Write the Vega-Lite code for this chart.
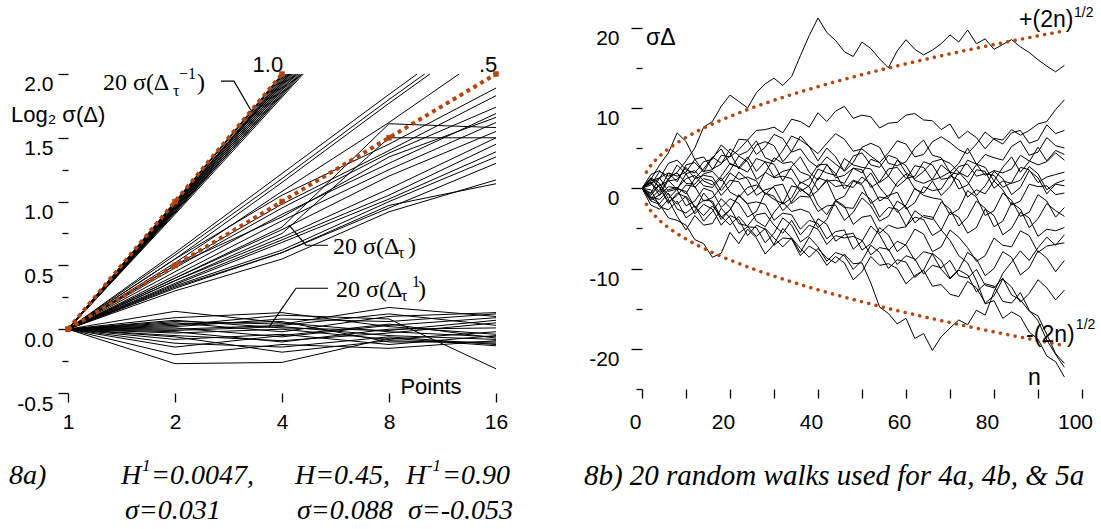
{
"$schema":"https://vega.github.io/schema/vega-lite/v6.json",
"background":"white",
"padding":{"left":8,"top":6,"right":4,"bottom":4},
"bounds":"flush",
"spacing":146,
"config":{"view":{"stroke":null},"axis":{"domain":false,"grid":false,"tickColor":"black","tickWidth":1.3,"labelColor":"black","labelFont":"Liberation Sans","labelFontSize":21,"labelFlush":false,"labelOverlap":false,"labelBound":false,"title":null}},
"datasets":{
"leftLines":[
{"g":"s1","x":1,"y":0},{"g":"s1","x":2,"y":1},{"g":"s1","x":4,"y":2},
{"g":"s2","x":1,"y":0},{"g":"s2","x":2,"y":0.99},{"g":"s2","x":4.03,"y":2},
{"g":"s3","x":1,"y":0},{"g":"s3","x":2,"y":1},{"g":"s3","x":4.06,"y":2},
{"g":"s4","x":1,"y":0},{"g":"s4","x":2,"y":0.98},{"g":"s4","x":4.09,"y":2},
{"g":"s5","x":1,"y":0},{"g":"s5","x":2,"y":0.97},{"g":"s5","x":4.12,"y":2},
{"g":"s6","x":1,"y":0},{"g":"s6","x":2,"y":0.98},{"g":"s6","x":4.15,"y":2},
{"g":"s7","x":1,"y":0},{"g":"s7","x":2,"y":0.96},{"g":"s7","x":4.18,"y":2},
{"g":"s8","x":1,"y":0},{"g":"s8","x":2,"y":0.97},{"g":"s8","x":4.21,"y":2},
{"g":"s9","x":1,"y":0},{"g":"s9","x":2,"y":0.95},{"g":"s9","x":4.24,"y":2},
{"g":"s10","x":1,"y":0},{"g":"s10","x":2,"y":0.96},{"g":"s10","x":4.27,"y":2},
{"g":"s11","x":1,"y":0},{"g":"s11","x":2,"y":0.94},{"g":"s11","x":4.3,"y":2},
{"g":"s12","x":1,"y":0},{"g":"s12","x":2,"y":0.95},{"g":"s12","x":4.34,"y":2},
{"g":"s13","x":1,"y":0},{"g":"s13","x":2,"y":0.93},{"g":"s13","x":4.37,"y":2},
{"g":"s14","x":1,"y":0},{"g":"s14","x":2,"y":0.94},{"g":"s14","x":4.4,"y":2},
{"g":"s15","x":1,"y":0},{"g":"s15","x":2,"y":0.92},{"g":"s15","x":4.44,"y":2},
{"g":"s16","x":1,"y":0},{"g":"s16","x":2,"y":0.93},{"g":"s16","x":4.48,"y":2},
{"g":"s17","x":1,"y":0},{"g":"s17","x":2,"y":0.91},{"g":"s17","x":4.51,"y":2},
{"g":"s18","x":1,"y":0},{"g":"s18","x":2,"y":0.92},{"g":"s18","x":4.55,"y":2},
{"g":"s19","x":1,"y":0},{"g":"s19","x":2,"y":0.9},{"g":"s19","x":4.59,"y":2},
{"g":"s20","x":1,"y":0},{"g":"s20","x":2,"y":0.99},{"g":"s20","x":4.2,"y":2},
{"g":"m1","x":1,"y":0},{"g":"m1","x":2,"y":0.6},{"g":"m1","x":4,"y":1.22},{"g":"m1","x":8,"y":1.84},{"g":"m1","x":9.6,"y":2},
{"g":"m2","x":1,"y":0},{"g":"m2","x":2,"y":0.58},{"g":"m2","x":4,"y":1.18},{"g":"m2","x":8,"y":1.8},{"g":"m2","x":10.08,"y":2},
{"g":"m3","x":1,"y":0},{"g":"m3","x":2,"y":0.55},{"g":"m3","x":4,"y":1.15},{"g":"m3","x":8,"y":1.77},{"g":"m3","x":10.43,"y":2},
{"g":"m4","x":1,"y":0},{"g":"m4","x":2,"y":0.52},{"g":"m4","x":4,"y":1.08},{"g":"m4","x":8,"y":1.62},{"g":"m4","x":12.6,"y":2},
{"g":"m5","x":1,"y":0},{"g":"m5","x":2,"y":0.55},{"g":"m5","x":4,"y":1.05},{"g":"m5","x":8,"y":1.45},{"g":"m5","x":16,"y":1.89},
{"g":"m6","x":1,"y":0},{"g":"m6","x":2,"y":0.5},{"g":"m6","x":4,"y":0.98},{"g":"m6","x":8,"y":1.4},{"g":"m6","x":16,"y":1.83},
{"g":"m7","x":1,"y":0},{"g":"m7","x":2,"y":0.48},{"g":"m7","x":4,"y":0.95},{"g":"m7","x":8,"y":1.38},{"g":"m7","x":16,"y":1.74},
{"g":"m8","x":1,"y":0},{"g":"m8","x":2,"y":0.45},{"g":"m8","x":4,"y":0.9},{"g":"m8","x":8,"y":1.3},{"g":"m8","x":16,"y":1.69},
{"g":"m9","x":1,"y":0},{"g":"m9","x":2,"y":0.5},{"g":"m9","x":4,"y":0.88},{"g":"m9","x":8,"y":1.35},{"g":"m9","x":16,"y":1.66},
{"g":"m10","x":1,"y":0},{"g":"m10","x":2,"y":0.42},{"g":"m10","x":4,"y":0.85},{"g":"m10","x":8,"y":1.25},{"g":"m10","x":16,"y":1.62},
{"g":"m11","x":1,"y":0},{"g":"m11","x":2,"y":0.4},{"g":"m11","x":4,"y":0.8},{"g":"m11","x":8,"y":1.61},{"g":"m11","x":16,"y":1.58},
{"g":"m12","x":1,"y":0},{"g":"m12","x":2,"y":0.4},{"g":"m12","x":4,"y":0.78},{"g":"m12","x":8,"y":1.2},{"g":"m12","x":16,"y":1.55},
{"g":"m13","x":1,"y":0},{"g":"m13","x":2,"y":0.38},{"g":"m13","x":4,"y":0.75},{"g":"m13","x":8,"y":1.5},{"g":"m13","x":16,"y":1.5},
{"g":"m14","x":1,"y":0},{"g":"m14","x":2,"y":0.38},{"g":"m14","x":4,"y":0.72},{"g":"m14","x":8,"y":1.1},{"g":"m14","x":16,"y":1.5},
{"g":"m15","x":1,"y":0},{"g":"m15","x":2,"y":0.36},{"g":"m15","x":4,"y":0.7},{"g":"m15","x":8,"y":1.05},{"g":"m15","x":16,"y":1.45},
{"g":"m16","x":1,"y":0},{"g":"m16","x":2,"y":0.35},{"g":"m16","x":4,"y":0.68},{"g":"m16","x":8,"y":1.02},{"g":"m16","x":16,"y":1.39},
{"g":"m17","x":1,"y":0},{"g":"m17","x":2,"y":0.33},{"g":"m17","x":4,"y":0.6},{"g":"m17","x":8,"y":0.95},{"g":"m17","x":16,"y":1.3},
{"g":"m18","x":1,"y":0},{"g":"m18","x":2,"y":0.32},{"g":"m18","x":4,"y":0.6},{"g":"m18","x":8,"y":0.97},{"g":"m18","x":16,"y":1.14},
{"g":"m19","x":1,"y":0},{"g":"m19","x":2,"y":0.3},{"g":"m19","x":4,"y":0.55},{"g":"m19","x":8,"y":0.92},{"g":"m19","x":16,"y":1.17},
{"g":"m20","x":1,"y":0},{"g":"m20","x":2,"y":0.34},{"g":"m20","x":4,"y":0.62},{"g":"m20","x":8,"y":1},{"g":"m20","x":16,"y":1.35},
{"g":"f1","x":1,"y":0},{"g":"f1","x":2,"y":0.14},{"g":"f1","x":4,"y":0.05},{"g":"f1","x":8,"y":-0.02},{"g":"f1","x":16,"y":-0.06},
{"g":"f2","x":1,"y":0},{"g":"f2","x":2,"y":0.09},{"g":"f2","x":4,"y":0.13},{"g":"f2","x":8,"y":0.02},{"g":"f2","x":16,"y":-0.04},
{"g":"f3","x":1,"y":0},{"g":"f3","x":2,"y":0.06},{"g":"f3","x":4,"y":0.04},{"g":"f3","x":8,"y":0.17},{"g":"f3","x":16,"y":0.1},
{"g":"f4","x":1,"y":0},{"g":"f4","x":2,"y":0.05},{"g":"f4","x":4,"y":-0.02},{"g":"f4","x":8,"y":0.1},{"g":"f4","x":16,"y":0.13},
{"g":"f5","x":1,"y":0},{"g":"f5","x":2,"y":0.02},{"g":"f5","x":4,"y":0.08},{"g":"f5","x":8,"y":0.06},{"g":"f5","x":16,"y":0.12},
{"g":"f6","x":1,"y":0},{"g":"f6","x":2,"y":0.01},{"g":"f6","x":4,"y":-0.06},{"g":"f6","x":8,"y":0.03},{"g":"f6","x":16,"y":0.09},
{"g":"f7","x":1,"y":0},{"g":"f7","x":2,"y":-0.01},{"g":"f7","x":4,"y":0.02},{"g":"f7","x":8,"y":-0.05},{"g":"f7","x":16,"y":-0.08},
{"g":"f8","x":1,"y":0},{"g":"f8","x":2,"y":-0.03},{"g":"f8","x":4,"y":0},{"g":"f8","x":8,"y":-0.08},{"g":"f8","x":16,"y":-0.02},
{"g":"f9","x":1,"y":0},{"g":"f9","x":2,"y":-0.05},{"g":"f9","x":4,"y":-0.09},{"g":"f9","x":8,"y":-0.03},{"g":"f9","x":16,"y":0.05},
{"g":"f10","x":1,"y":0},{"g":"f10","x":2,"y":0.04},{"g":"f10","x":4,"y":0.06},{"g":"f10","x":8,"y":-0.1},{"g":"f10","x":16,"y":-0.1},
{"g":"f11","x":1,"y":0},{"g":"f11","x":2,"y":-0.08},{"g":"f11","x":4,"y":-0.04},{"g":"f11","x":8,"y":-0.12},{"g":"f11","x":16,"y":-0.05},
{"g":"f12","x":1,"y":0},{"g":"f12","x":2,"y":-0.11},{"g":"f12","x":4,"y":-0.14},{"g":"f12","x":8,"y":-0.06},{"g":"f12","x":16,"y":-0.12},
{"g":"f13","x":1,"y":0},{"g":"f13","x":2,"y":-0.14},{"g":"f13","x":4,"y":-0.05},{"g":"f13","x":8,"y":0.04},{"g":"f13","x":16,"y":-0.07},
{"g":"f14","x":1,"y":0},{"g":"f14","x":2,"y":-0.2},{"g":"f14","x":4,"y":-0.12},{"g":"f14","x":8,"y":-0.15},{"g":"f14","x":16,"y":-0.09},
{"g":"f15","x":1,"y":0},{"g":"f15","x":2,"y":-0.27},{"g":"f15","x":4,"y":-0.26},{"g":"f15","x":8,"y":-0.07},{"g":"f15","x":16,"y":-0.13},
{"g":"f16","x":1,"y":0},{"g":"f16","x":2,"y":0.03},{"g":"f16","x":4,"y":0.11},{"g":"f16","x":8,"y":0.08},{"g":"f16","x":16,"y":-0.31},
{"g":"f17","x":1,"y":0},{"g":"f17","x":2,"y":-0.02},{"g":"f17","x":4,"y":-0.1},{"g":"f17","x":8,"y":0},{"g":"f17","x":16,"y":0.01},
{"g":"f18","x":1,"y":0},{"g":"f18","x":2,"y":0.07},{"g":"f18","x":4,"y":0.01},{"g":"f18","x":8,"y":-0.01},{"g":"f18","x":16,"y":0.07},
{"g":"f19","x":1,"y":0},{"g":"f19","x":2,"y":-0.06},{"g":"f19","x":4,"y":-0.18},{"g":"f19","x":8,"y":-0.09},{"g":"f19","x":16,"y":-0.11},
{"g":"f20","x":1,"y":0},{"g":"f20","x":2,"y":0},{"g":"f20","x":4,"y":0.03},{"g":"f20","x":8,"y":0.12},{"g":"f20","x":16,"y":0.03}
],
"leftFit":[
{"g":"h1","x":1,"y":0},{"g":"h1","x":2,"y":1},{"g":"h1","x":4,"y":2},
{"g":"h2","x":1,"y":0},{"g":"h2","x":2,"y":0.5},{"g":"h2","x":4,"y":1},{"g":"h2","x":8,"y":1.5},{"g":"h2","x":16,"y":2}
],
"leftLeaders":[
{"g":"a","x":2.694,"y":1.944},{"g":"a","x":2.931,"y":1.944},{"g":"a","x":3.27,"y":1.716},
{"g":"b","x":4.185,"y":0.815},{"g":"b","x":4.673,"y":0.658},{"g":"b","x":5.389,"y":0.658},
{"g":"c","x":3.678,"y":0.016},{"g":"c","x":4.38,"y":0.321},{"g":"c","x":5.389,"y":0.321}
],
"leftText":[
{"k":"c","x":3.65,"y":2.069,"t":"1.0"},
{"k":"c","x":15.2,"y":2.069,"t":".5"},
{"k":"c","x":10.5,"y":-0.455,"t":"Points"},
{"k":"l","x":0.691,"y":1.677,"t":"Log₂ σ(Δ)"},
{"k":"sm","x":1.254,"y":1.928,"t":"20 σ(Δ"},
{"k":"sm","x":2.306,"y":1.928,"t":")"},
{"k":"sm","x":5.567,"y":0.643,"t":"20 σ(Δ"},
{"k":"sm","x":9.05,"y":0.643,"t":")"},
{"k":"sm","x":5.676,"y":0.306,"t":"20 σ(Δ"},
{"k":"sm","x":9.65,"y":0.306,"t":")"},
{"k":"ss","x":1.974,"y":1.865,"t":"τ"},
{"k":"ss","x":8.48,"y":0.596,"t":"τ"},
{"k":"ss","x":8.645,"y":0.259,"t":"τ"},
{"k":"sp","x":2.053,"y":1.998,"t":"−1"},
{"k":"sp","x":9.28,"y":0.368,"t":"1"},
{"k":"cap","x":0.682,"y":-1.152,"t":"8a)"},
{"k":"cap","x":1.41,"y":-1.152,"t":"H"},
{"k":"csp","x":1.615,"y":-1.074,"t":"1"},
{"k":"cap","x":1.712,"y":-1.152,"t":"=0.0047,"},
{"k":"cap","x":4.35,"y":-1.152,"t":"H=0.45,"},
{"k":"cap","x":8.93,"y":-1.152,"t":"H"},
{"k":"csp","x":10.23,"y":-1.074,"t":"-1"},
{"k":"cap","x":11.28,"y":-1.152,"t":"=0.90"},
{"k":"cap","x":1.447,"y":-1.426,"t":"σ=0.031"},
{"k":"cap","x":4.41,"y":-1.426,"t":"σ=0.088"},
{"k":"cap","x":9.05,"y":-1.426,"t":"σ=-0.053"}
],
"walks":[
{"w":1,"x":0,"y":0},{"w":1,"x":2,"y":0.8},{"w":1,"x":4,"y":-0.5},{"w":1,"x":6,"y":1.2},{"w":1,"x":8,"y":2},{"w":1,"x":10,"y":3.4},{"w":1,"x":12,"y":5},{"w":1,"x":14,"y":7.6},{"w":1,"x":16,"y":8.3},{"w":1,"x":18,"y":10.2},{"w":1,"x":20,"y":11.6},{"w":1,"x":22,"y":10.8},{"w":1,"x":24,"y":10},{"w":1,"x":26,"y":11.9},{"w":1,"x":28,"y":13},{"w":1,"x":30,"y":13.7},{"w":1,"x":32,"y":12.8},{"w":1,"x":34,"y":13.9},{"w":1,"x":36,"y":16.5},{"w":1,"x":38,"y":19},{"w":1,"x":40,"y":21.2},{"w":1,"x":42,"y":19.4},{"w":1,"x":44,"y":18.4},{"w":1,"x":46,"y":17},{"w":1,"x":48,"y":16.4},{"w":1,"x":50,"y":18.2},{"w":1,"x":52,"y":17.4},{"w":1,"x":54,"y":16.1},{"w":1,"x":56,"y":15},{"w":1,"x":58,"y":17.1},{"w":1,"x":60,"y":18.5},{"w":1,"x":62,"y":17.3},{"w":1,"x":64,"y":16.6},{"w":1,"x":66,"y":17.2},{"w":1,"x":68,"y":18},{"w":1,"x":70,"y":19.1},{"w":1,"x":72,"y":18.2},{"w":1,"x":74,"y":19.7},{"w":1,"x":76,"y":18},{"w":1,"x":78,"y":18.6},{"w":1,"x":80,"y":17.3},{"w":1,"x":82,"y":17.9},{"w":1,"x":84,"y":18.5},{"w":1,"x":86,"y":17.6},{"w":1,"x":88,"y":16.9},{"w":1,"x":90,"y":16},{"w":1,"x":92,"y":15.2},{"w":1,"x":94,"y":14.5},{"w":1,"x":96,"y":15.3},
{"w":2,"x":0,"y":0},{"w":2,"x":2,"y":-0.9},{"w":2,"x":4,"y":0.4},{"w":2,"x":6,"y":0.9},{"w":2,"x":8,"y":1.1},{"w":2,"x":10,"y":2.6},{"w":2,"x":12,"y":1.2},{"w":2,"x":14,"y":2.4},{"w":2,"x":16,"y":3.9},{"w":2,"x":18,"y":3.1},{"w":2,"x":20,"y":4},{"w":2,"x":22,"y":6.1},{"w":2,"x":24,"y":6},{"w":2,"x":26,"y":7.2},{"w":2,"x":28,"y":7.3},{"w":2,"x":30,"y":7.6},{"w":2,"x":32,"y":6.9},{"w":2,"x":34,"y":8.6},{"w":2,"x":36,"y":8.3},{"w":2,"x":38,"y":7.6},{"w":2,"x":40,"y":9.4},{"w":2,"x":42,"y":8.3},{"w":2,"x":44,"y":9.6},{"w":2,"x":46,"y":10.2},{"w":2,"x":48,"y":8.7},{"w":2,"x":50,"y":9.1},{"w":2,"x":52,"y":8.9},{"w":2,"x":54,"y":7.5},{"w":2,"x":56,"y":8.1},{"w":2,"x":58,"y":8.2},{"w":2,"x":60,"y":9.1},{"w":2,"x":62,"y":9.3},{"w":2,"x":64,"y":8.5},{"w":2,"x":66,"y":8.4},{"w":2,"x":68,"y":7.3},{"w":2,"x":70,"y":8},{"w":2,"x":72,"y":6.2},{"w":2,"x":74,"y":7.1},{"w":2,"x":76,"y":6.3},{"w":2,"x":78,"y":4.9},{"w":2,"x":80,"y":6.2},{"w":2,"x":82,"y":6},{"w":2,"x":84,"y":7.3},{"w":2,"x":86,"y":6.6},{"w":2,"x":88,"y":7.2},{"w":2,"x":90,"y":8},{"w":2,"x":92,"y":8.3},{"w":2,"x":94,"y":9.8},{"w":2,"x":96,"y":11},
{"w":3,"x":0,"y":0},{"w":3,"x":2,"y":1.1},{"w":3,"x":4,"y":2.9},{"w":3,"x":6,"y":4.4},{"w":3,"x":8,"y":6.9},{"w":3,"x":10,"y":5.8},{"w":3,"x":12,"y":3.6},{"w":3,"x":14,"y":3.9},{"w":3,"x":16,"y":2.4},{"w":3,"x":18,"y":3},{"w":3,"x":20,"y":4.9},{"w":3,"x":22,"y":4.1},{"w":3,"x":24,"y":4.6},{"w":3,"x":26,"y":5.9},{"w":3,"x":28,"y":3.8},{"w":3,"x":30,"y":3.3},{"w":3,"x":32,"y":4.7},{"w":3,"x":34,"y":6.5},{"w":3,"x":36,"y":6},{"w":3,"x":38,"y":5.2},{"w":3,"x":40,"y":4.3},{"w":3,"x":42,"y":5.6},{"w":3,"x":44,"y":6.8},{"w":3,"x":46,"y":6.1},{"w":3,"x":48,"y":4.6},{"w":3,"x":50,"y":4.9},{"w":3,"x":52,"y":4},{"w":3,"x":54,"y":3.2},{"w":3,"x":56,"y":4.4},{"w":3,"x":58,"y":5.9},{"w":3,"x":60,"y":5.5},{"w":3,"x":62,"y":3.9},{"w":3,"x":64,"y":4.2},{"w":3,"x":66,"y":5.8},{"w":3,"x":68,"y":6.4},{"w":3,"x":70,"y":5.7},{"w":3,"x":72,"y":4.8},{"w":3,"x":74,"y":4.3},{"w":3,"x":76,"y":5.5},{"w":3,"x":78,"y":7},{"w":3,"x":80,"y":6.1},{"w":3,"x":82,"y":5.5},{"w":3,"x":84,"y":6.9},{"w":3,"x":86,"y":7.2},{"w":3,"x":88,"y":5.6},{"w":3,"x":90,"y":6},{"w":3,"x":92,"y":7.9},{"w":3,"x":94,"y":6.8},{"w":3,"x":96,"y":7.2},
{"w":4,"x":0,"y":0},{"w":4,"x":2,"y":-1.3},{"w":4,"x":4,"y":-0.2},{"w":4,"x":6,"y":1.9},{"w":4,"x":8,"y":1.5},{"w":4,"x":10,"y":2},{"w":4,"x":12,"y":3.6},{"w":4,"x":14,"y":2.1},{"w":4,"x":16,"y":2.3},{"w":4,"x":18,"y":4.1},{"w":4,"x":20,"y":3.9},{"w":4,"x":22,"y":4.8},{"w":4,"x":24,"y":6},{"w":4,"x":26,"y":4.2},{"w":4,"x":28,"y":5.1},{"w":4,"x":30,"y":6.7},{"w":4,"x":32,"y":6.2},{"w":4,"x":34,"y":4.5},{"w":4,"x":36,"y":4.9},{"w":4,"x":38,"y":3.4},{"w":4,"x":40,"y":2.6},{"w":4,"x":42,"y":3.9},{"w":4,"x":44,"y":3},{"w":4,"x":46,"y":2.2},{"w":4,"x":48,"y":4},{"w":4,"x":50,"y":4.4},{"w":4,"x":52,"y":2.9},{"w":4,"x":54,"y":2.6},{"w":4,"x":56,"y":4.1},{"w":4,"x":58,"y":3.7},{"w":4,"x":60,"y":1.9},{"w":4,"x":62,"y":1.2},{"w":4,"x":64,"y":2.1},{"w":4,"x":66,"y":3.3},{"w":4,"x":68,"y":3.6},{"w":4,"x":70,"y":3.1},{"w":4,"x":72,"y":2},{"w":4,"x":74,"y":1.4},{"w":4,"x":76,"y":2.9},{"w":4,"x":78,"y":4.2},{"w":4,"x":80,"y":3.8},{"w":4,"x":82,"y":3.5},{"w":4,"x":84,"y":5.2},{"w":4,"x":86,"y":5.9},{"w":4,"x":88,"y":4.1},{"w":4,"x":90,"y":4.5},{"w":4,"x":92,"y":6.3},{"w":4,"x":94,"y":5.3},{"w":4,"x":96,"y":5},
{"w":5,"x":0,"y":0},{"w":5,"x":2,"y":0.9},{"w":5,"x":4,"y":1.3},{"w":5,"x":6,"y":-0.4},{"w":5,"x":8,"y":-0.1},{"w":5,"x":10,"y":1.8},{"w":5,"x":12,"y":2.2},{"w":5,"x":14,"y":0.9},{"w":5,"x":16,"y":0.4},{"w":5,"x":18,"y":1.5},{"w":5,"x":20,"y":3.1},{"w":5,"x":22,"y":2.6},{"w":5,"x":24,"y":2},{"w":5,"x":26,"y":3.7},{"w":5,"x":28,"y":3.3},{"w":5,"x":30,"y":1.4},{"w":5,"x":32,"y":2.1},{"w":5,"x":34,"y":2.4},{"w":5,"x":36,"y":0.6},{"w":5,"x":38,"y":1.2},{"w":5,"x":40,"y":2.9},{"w":5,"x":42,"y":3},{"w":5,"x":44,"y":1.3},{"w":5,"x":46,"y":1.6},{"w":5,"x":48,"y":2.5},{"w":5,"x":50,"y":1.9},{"w":5,"x":52,"y":3.6},{"w":5,"x":54,"y":3.2},{"w":5,"x":56,"y":1.5},{"w":5,"x":58,"y":0.2},{"w":5,"x":60,"y":1.1},{"w":5,"x":62,"y":2.8},{"w":5,"x":64,"y":2.6},{"w":5,"x":66,"y":1},{"w":5,"x":68,"y":1.4},{"w":5,"x":70,"y":2},{"w":5,"x":72,"y":1.7},{"w":5,"x":74,"y":3.5},{"w":5,"x":76,"y":3},{"w":5,"x":78,"y":1.6},{"w":5,"x":80,"y":2.2},{"w":5,"x":82,"y":1.9},{"w":5,"x":84,"y":2.4},{"w":5,"x":86,"y":4.1},{"w":5,"x":88,"y":3.4},{"w":5,"x":90,"y":2.9},{"w":5,"x":92,"y":3.3},{"w":5,"x":94,"y":4.4},{"w":5,"x":96,"y":3.5},
{"w":6,"x":0,"y":0},{"w":6,"x":2,"y":0.4},{"w":6,"x":4,"y":2.1},{"w":6,"x":6,"y":1.5},{"w":6,"x":8,"y":1.9},{"w":6,"x":10,"y":0.6},{"w":6,"x":12,"y":0.5},{"w":6,"x":14,"y":1.8},{"w":6,"x":16,"y":2.1},{"w":6,"x":18,"y":0.9},{"w":6,"x":20,"y":2.2},{"w":6,"x":22,"y":4},{"w":6,"x":24,"y":3.3},{"w":6,"x":26,"y":1.1},{"w":6,"x":28,"y":1.9},{"w":6,"x":30,"y":3.8},{"w":6,"x":32,"y":3.1},{"w":6,"x":34,"y":3.3},{"w":6,"x":36,"y":2},{"w":6,"x":38,"y":1.6},{"w":6,"x":40,"y":-0.2},{"w":6,"x":42,"y":0.9},{"w":6,"x":44,"y":1},{"w":6,"x":46,"y":0.6},{"w":6,"x":48,"y":2.5},{"w":6,"x":50,"y":2.3},{"w":6,"x":52,"y":0.1},{"w":6,"x":54,"y":0.8},{"w":6,"x":56,"y":2.4},{"w":6,"x":58,"y":2.6},{"w":6,"x":60,"y":1.2},{"w":6,"x":62,"y":1.5},{"w":6,"x":64,"y":3.3},{"w":6,"x":66,"y":2.9},{"w":6,"x":68,"y":1.1},{"w":6,"x":70,"y":1.3},{"w":6,"x":72,"y":2.7},{"w":6,"x":74,"y":3},{"w":6,"x":76,"y":1.5},{"w":6,"x":78,"y":1.8},{"w":6,"x":80,"y":1.6},{"w":6,"x":82,"y":0.1},{"w":6,"x":84,"y":0.7},{"w":6,"x":86,"y":2.6},{"w":6,"x":88,"y":2.3},{"w":6,"x":90,"y":0.7},{"w":6,"x":92,"y":1.4},{"w":6,"x":94,"y":1.7},{"w":6,"x":96,"y":2},
{"w":7,"x":0,"y":0},{"w":7,"x":2,"y":-1.1},{"w":7,"x":4,"y":-1.4},{"w":7,"x":6,"y":-0.2},{"w":7,"x":8,"y":0.1},{"w":7,"x":10,"y":-0.7},{"w":7,"x":12,"y":1.2},{"w":7,"x":14,"y":1.6},{"w":7,"x":16,"y":1.4},{"w":7,"x":18,"y":-0.3},{"w":7,"x":20,"y":1},{"w":7,"x":22,"y":0.8},{"w":7,"x":24,"y":-0.9},{"w":7,"x":26,"y":-0.1},{"w":7,"x":28,"y":2},{"w":7,"x":30,"y":1.3},{"w":7,"x":32,"y":1.5},{"w":7,"x":34,"y":1.2},{"w":7,"x":36,"y":-0.4},{"w":7,"x":38,"y":0.3},{"w":7,"x":40,"y":2.4},{"w":7,"x":42,"y":1.9},{"w":7,"x":44,"y":1.6},{"w":7,"x":46,"y":3.7},{"w":7,"x":48,"y":2.9},{"w":7,"x":50,"y":2.6},{"w":7,"x":52,"y":2.4},{"w":7,"x":54,"y":0.7},{"w":7,"x":56,"y":1.5},{"w":7,"x":58,"y":3.5},{"w":7,"x":60,"y":2.8},{"w":7,"x":62,"y":1},{"w":7,"x":64,"y":0.6},{"w":7,"x":66,"y":1.1},{"w":7,"x":68,"y":2.9},{"w":7,"x":70,"y":2},{"w":7,"x":72,"y":-0.1},{"w":7,"x":74,"y":0.4},{"w":7,"x":76,"y":2.3},{"w":7,"x":78,"y":2.1},{"w":7,"x":80,"y":0},{"w":7,"x":82,"y":0.9},{"w":7,"x":84,"y":0.6},{"w":7,"x":86,"y":1},{"w":7,"x":88,"y":2.7},{"w":7,"x":90,"y":1.8},{"w":7,"x":92,"y":-0.2},{"w":7,"x":94,"y":0.6},{"w":7,"x":96,"y":1},
{"w":8,"x":0,"y":0},{"w":8,"x":2,"y":1.2},{"w":8,"x":4,"y":0.1},{"w":8,"x":6,"y":-1.7},{"w":8,"x":8,"y":-0.9},{"w":8,"x":10,"y":0.4},{"w":8,"x":12,"y":0.2},{"w":8,"x":14,"y":-1.6},{"w":8,"x":16,"y":-1.2},{"w":8,"x":18,"y":0.1},{"w":8,"x":20,"y":1.9},{"w":8,"x":22,"y":1.1},{"w":8,"x":24,"y":1.4},{"w":8,"x":26,"y":0.9},{"w":8,"x":28,"y":-0.8},{"w":8,"x":30,"y":0.3},{"w":8,"x":32,"y":0.5},{"w":8,"x":34,"y":-1.9},{"w":8,"x":36,"y":-1},{"w":8,"x":38,"y":-1.1},{"w":8,"x":40,"y":-0.3},{"w":8,"x":42,"y":1.1},{"w":8,"x":44,"y":0.2},{"w":8,"x":46,"y":0.4},{"w":8,"x":48,"y":0.1},{"w":8,"x":50,"y":1.4},{"w":8,"x":52,"y":0.5},{"w":8,"x":54,"y":-1.6},{"w":8,"x":56,"y":-0.9},{"w":8,"x":58,"y":-0.5},{"w":8,"x":60,"y":-2.6},{"w":8,"x":62,"y":-1.8},{"w":8,"x":64,"y":0.2},{"w":8,"x":66,"y":-0.3},{"w":8,"x":68,"y":-0.1},{"w":8,"x":70,"y":1.6},{"w":8,"x":72,"y":1},{"w":8,"x":74,"y":-1.1},{"w":8,"x":76,"y":-0.2},{"w":8,"x":78,"y":-0.7},{"w":8,"x":80,"y":0.9},{"w":8,"x":82,"y":-0.2},{"w":8,"x":84,"y":-2.1},{"w":8,"x":86,"y":-1.6},{"w":8,"x":88,"y":0.5},{"w":8,"x":90,"y":0.2},{"w":8,"x":92,"y":0.3},{"w":8,"x":94,"y":-0.8},{"w":8,"x":96,"y":-0.6},
{"w":9,"x":0,"y":0},{"w":9,"x":2,"y":-1.5},{"w":9,"x":4,"y":-0.8},{"w":9,"x":6,"y":1},{"w":9,"x":8,"y":-0.2},{"w":9,"x":10,"y":-2.2},{"w":9,"x":12,"y":-1.6},{"w":9,"x":14,"y":0},{"w":9,"x":16,"y":-0.4},{"w":9,"x":18,"y":-2.4},{"w":9,"x":20,"y":-1.3},{"w":9,"x":22,"y":-1.9},{"w":9,"x":24,"y":-3.6},{"w":9,"x":26,"y":-2.9},{"w":9,"x":28,"y":-0.6},{"w":9,"x":30,"y":-1.4},{"w":9,"x":32,"y":-1.9},{"w":9,"x":34,"y":0.3},{"w":9,"x":36,"y":0},{"w":9,"x":38,"y":-0.9},{"w":9,"x":40,"y":1.3},{"w":9,"x":42,"y":0.9},{"w":9,"x":44,"y":-1.5},{"w":9,"x":46,"y":-1},{"w":9,"x":48,"y":0.9},{"w":9,"x":50,"y":0.4},{"w":9,"x":52,"y":-1.9},{"w":9,"x":54,"y":-1.1},{"w":9,"x":56,"y":-1.3},{"w":9,"x":58,"y":-3},{"w":9,"x":60,"y":-2.1},{"w":9,"x":62,"y":0},{"w":9,"x":64,"y":-0.9},{"w":9,"x":66,"y":-1.2},{"w":9,"x":68,"y":-1.4},{"w":9,"x":70,"y":-3.3},{"w":9,"x":72,"y":-2.6},{"w":9,"x":74,"y":-0.3},{"w":9,"x":76,"y":-1.1},{"w":9,"x":78,"y":-3.4},{"w":9,"x":80,"y":-2.8},{"w":9,"x":82,"y":-0.6},{"w":9,"x":84,"y":-1.5},{"w":9,"x":86,"y":-3.5},{"w":9,"x":88,"y":-3},{"w":9,"x":90,"y":-0.8},{"w":9,"x":92,"y":-1.6},{"w":9,"x":94,"y":-3.6},{"w":9,"x":96,"y":-2.4},
{"w":10,"x":0,"y":0},{"w":10,"x":2,"y":-0.2},{"w":10,"x":4,"y":-2.3},{"w":10,"x":6,"y":-2.7},{"w":10,"x":8,"y":-1.6},{"w":10,"x":10,"y":-3.7},{"w":10,"x":12,"y":-2.9},{"w":10,"x":14,"y":-0.6},{"w":10,"x":16,"y":-1.9},{"w":10,"x":18,"y":-3.9},{"w":10,"x":20,"y":-2.7},{"w":10,"x":22,"y":-0.9},{"w":10,"x":24,"y":-2},{"w":10,"x":26,"y":-4.1},{"w":10,"x":28,"y":-4.8},{"w":10,"x":30,"y":-3},{"w":10,"x":32,"y":-1.7},{"w":10,"x":34,"y":-2.9},{"w":10,"x":36,"y":-2.6},{"w":10,"x":38,"y":-3},{"w":10,"x":40,"y":-4.9},{"w":10,"x":42,"y":-3.9},{"w":10,"x":44,"y":-1.6},{"w":10,"x":46,"y":-2.4},{"w":10,"x":48,"y":-2.5},{"w":10,"x":50,"y":-0.5},{"w":10,"x":52,"y":-1.4},{"w":10,"x":54,"y":-3.6},{"w":10,"x":56,"y":-2.4},{"w":10,"x":58,"y":-2.6},{"w":10,"x":60,"y":-4.7},{"w":10,"x":62,"y":-3.6},{"w":10,"x":64,"y":-3.9},{"w":10,"x":66,"y":-5.9},{"w":10,"x":68,"y":-5.2},{"w":10,"x":70,"y":-3},{"w":10,"x":72,"y":-3.6},{"w":10,"x":74,"y":-5.6},{"w":10,"x":76,"y":-4.9},{"w":10,"x":78,"y":-2.6},{"w":10,"x":80,"y":-3.4},{"w":10,"x":82,"y":-5.8},{"w":10,"x":84,"y":-5},{"w":10,"x":86,"y":-3},{"w":10,"x":88,"y":-3.7},{"w":10,"x":90,"y":-6},{"w":10,"x":92,"y":-5.1},{"w":10,"x":94,"y":-5.3},{"w":10,"x":96,"y":-4.9},
{"w":11,"x":0,"y":0},{"w":11,"x":2,"y":-2.1},{"w":11,"x":4,"y":-2.6},{"w":11,"x":6,"y":-1.4},{"w":11,"x":8,"y":-3.5},{"w":11,"x":10,"y":-5.2},{"w":11,"x":12,"y":-3.4},{"w":11,"x":14,"y":-4.6},{"w":11,"x":16,"y":-4.4},{"w":11,"x":18,"y":-2.5},{"w":11,"x":20,"y":-3.7},{"w":11,"x":22,"y":-5.6},{"w":11,"x":24,"y":-4.8},{"w":11,"x":26,"y":-4.9},{"w":11,"x":28,"y":-6.8},{"w":11,"x":30,"y":-5.6},{"w":11,"x":32,"y":-3.7},{"w":11,"x":34,"y":-4.6},{"w":11,"x":36,"y":-6.7},{"w":11,"x":38,"y":-5.9},{"w":11,"x":40,"y":-3.8},{"w":11,"x":42,"y":-4.5},{"w":11,"x":44,"y":-6.6},{"w":11,"x":46,"y":-5.8},{"w":11,"x":48,"y":-5.6},{"w":11,"x":50,"y":-7.7},{"w":11,"x":52,"y":-6.9},{"w":11,"x":54,"y":-4.9},{"w":11,"x":56,"y":-5.8},{"w":11,"x":58,"y":-7.9},{"w":11,"x":60,"y":-7},{"w":11,"x":62,"y":-5.1},{"w":11,"x":64,"y":-5.7},{"w":11,"x":66,"y":-7.9},{"w":11,"x":68,"y":-7.3},{"w":11,"x":70,"y":-5.2},{"w":11,"x":72,"y":-6.1},{"w":11,"x":74,"y":-7.4},{"w":11,"x":76,"y":-9.1},{"w":11,"x":78,"y":-8.4},{"w":11,"x":80,"y":-6.2},{"w":11,"x":82,"y":-7.1},{"w":11,"x":84,"y":-7.3},{"w":11,"x":86,"y":-5.3},{"w":11,"x":88,"y":-5.9},{"w":11,"x":90,"y":-8},{"w":11,"x":92,"y":-7.2},{"w":11,"x":94,"y":-7},{"w":11,"x":96,"y":-6.8},
{"w":12,"x":0,"y":0},{"w":12,"x":2,"y":-1.6},{"w":12,"x":4,"y":-2},{"w":12,"x":6,"y":-3.7},{"w":12,"x":8,"y":-4},{"w":12,"x":10,"y":-4.6},{"w":12,"x":12,"y":-6.4},{"w":12,"x":14,"y":-6.9},{"w":12,"x":16,"y":-8.6},{"w":12,"x":18,"y":-8.1},{"w":12,"x":20,"y":-5.5},{"w":12,"x":22,"y":-6.9},{"w":12,"x":24,"y":-5.1},{"w":12,"x":26,"y":-6.2},{"w":12,"x":28,"y":-8.2},{"w":12,"x":30,"y":-7},{"w":12,"x":32,"y":-5},{"w":12,"x":34,"y":-6.2},{"w":12,"x":36,"y":-8},{"w":12,"x":38,"y":-6.1},{"w":12,"x":40,"y":-7.3},{"w":12,"x":42,"y":-9.1},{"w":12,"x":44,"y":-8},{"w":12,"x":46,"y":-8.4},{"w":12,"x":48,"y":-10.1},{"w":12,"x":50,"y":-9},{"w":12,"x":52,"y":-7.1},{"w":12,"x":54,"y":-8},{"w":12,"x":56,"y":-10},{"w":12,"x":58,"y":-8.9},{"w":12,"x":60,"y":-9.2},{"w":12,"x":62,"y":-11.1},{"w":12,"x":64,"y":-10.2},{"w":12,"x":66,"y":-8.1},{"w":12,"x":68,"y":-9},{"w":12,"x":70,"y":-11.2},{"w":12,"x":72,"y":-10.1},{"w":12,"x":74,"y":-8},{"w":12,"x":76,"y":-8.8},{"w":12,"x":78,"y":-10.9},{"w":12,"x":80,"y":-10},{"w":12,"x":82,"y":-7.9},{"w":12,"x":84,"y":-8.6},{"w":12,"x":86,"y":-10.8},{"w":12,"x":88,"y":-9.9},{"w":12,"x":90,"y":-7.8},{"w":12,"x":92,"y":-8.7},{"w":12,"x":94,"y":-10.4},{"w":12,"x":96,"y":-9},
{"w":13,"x":0,"y":0},{"w":13,"x":2,"y":1.1},{"w":13,"x":4,"y":0.2},{"w":13,"x":6,"y":-1.9},{"w":13,"x":8,"y":-0.6},{"w":13,"x":10,"y":-1.1},{"w":13,"x":12,"y":-3.2},{"w":13,"x":14,"y":-2},{"w":13,"x":16,"y":-2.6},{"w":13,"x":18,"y":-4.6},{"w":13,"x":20,"y":-3.4},{"w":13,"x":22,"y":-3.9},{"w":13,"x":24,"y":-5.9},{"w":13,"x":26,"y":-4.6},{"w":13,"x":28,"y":-5.1},{"w":13,"x":30,"y":-7.1},{"w":13,"x":32,"y":-6.2},{"w":13,"x":34,"y":-6.3},{"w":13,"x":36,"y":-8.4},{"w":13,"x":38,"y":-7.2},{"w":13,"x":40,"y":-7.9},{"w":13,"x":42,"y":-9.6},{"w":13,"x":44,"y":-8.5},{"w":13,"x":46,"y":-9.3},{"w":13,"x":48,"y":-11.4},{"w":13,"x":50,"y":-10.4},{"w":13,"x":52,"y":-8.5},{"w":13,"x":54,"y":-9.6},{"w":13,"x":56,"y":-9.4},{"w":13,"x":58,"y":-10},{"w":13,"x":60,"y":-11.9},{"w":13,"x":62,"y":-10.9},{"w":13,"x":64,"y":-10.2},{"w":13,"x":66,"y":-12.2},{"w":13,"x":68,"y":-12},{"w":13,"x":70,"y":-13.2},{"w":13,"x":72,"y":-13.5},{"w":13,"x":74,"y":-11.6},{"w":13,"x":76,"y":-12.4},{"w":13,"x":78,"y":-14.3},{"w":13,"x":80,"y":-13.4},{"w":13,"x":82,"y":-11.3},{"w":13,"x":84,"y":-12.3},{"w":13,"x":86,"y":-14.2},{"w":13,"x":88,"y":-13.1},{"w":13,"x":90,"y":-11.4},{"w":13,"x":92,"y":-12.4},{"w":13,"x":94,"y":-13.9},{"w":13,"x":96,"y":-12.7},
{"w":14,"x":0,"y":0},{"w":14,"x":2,"y":-1.2},{"w":14,"x":4,"y":-1.9},{"w":14,"x":6,"y":-0.6},{"w":14,"x":8,"y":-2.6},{"w":14,"x":10,"y":-3.1},{"w":14,"x":12,"y":-2.2},{"w":14,"x":14,"y":-4.1},{"w":14,"x":16,"y":-2.9},{"w":14,"x":18,"y":-1.3},{"w":14,"x":20,"y":-2.4},{"w":14,"x":22,"y":-4.4},{"w":14,"x":24,"y":-4.7},{"w":14,"x":26,"y":-3.3},{"w":14,"x":28,"y":-3.1},{"w":14,"x":30,"y":-4.6},{"w":14,"x":32,"y":-5.6},{"w":14,"x":34,"y":-4},{"w":14,"x":36,"y":-5.8},{"w":14,"x":38,"y":-4.6},{"w":14,"x":40,"y":-5.1},{"w":14,"x":42,"y":-7},{"w":14,"x":44,"y":-5.9},{"w":14,"x":46,"y":-6.2},{"w":14,"x":48,"y":-6},{"w":14,"x":50,"y":-6.5},{"w":14,"x":52,"y":-8.3},{"w":14,"x":54,"y":-7.4},{"w":14,"x":56,"y":-7.6},{"w":14,"x":58,"y":-9.5},{"w":14,"x":60,"y":-8.4},{"w":14,"x":62,"y":-8.8},{"w":14,"x":64,"y":-10.7},{"w":14,"x":66,"y":-9.6},{"w":14,"x":68,"y":-9.9},{"w":14,"x":70,"y":-9},{"w":14,"x":72,"y":-10.9},{"w":14,"x":74,"y":-11.2},{"w":14,"x":76,"y":-10.1},{"w":14,"x":78,"y":-12.1},{"w":14,"x":80,"y":-12.4},{"w":14,"x":82,"y":-11.2},{"w":14,"x":84,"y":-13.3},{"w":14,"x":86,"y":-13.9},{"w":14,"x":88,"y":-15.3},{"w":14,"x":90,"y":-15.9},{"w":14,"x":92,"y":-18.2},{"w":14,"x":94,"y":-20.6},{"w":14,"x":96,"y":-21.8},
{"w":15,"x":0,"y":0},{"w":15,"x":2,"y":0.7},{"w":15,"x":4,"y":-0.9},{"w":15,"x":6,"y":0.2},{"w":15,"x":8,"y":0},{"w":15,"x":10,"y":1.2},{"w":15,"x":12,"y":1.6},{"w":15,"x":14,"y":0.3},{"w":15,"x":16,"y":0.1},{"w":15,"x":18,"y":1.3},{"w":15,"x":20,"y":-0.5},{"w":15,"x":22,"y":-1.1},{"w":15,"x":24,"y":0.1},{"w":15,"x":26,"y":0.4},{"w":15,"x":28,"y":-0.6},{"w":15,"x":30,"y":-1},{"w":15,"x":32,"y":-2.8},{"w":15,"x":34,"y":-1.7},{"w":15,"x":36,"y":-0.1},{"w":15,"x":38,"y":-0.9},{"w":15,"x":40,"y":-2.9},{"w":15,"x":42,"y":-2.2},{"w":15,"x":44,"y":-2.1},{"w":15,"x":46,"y":-4},{"w":15,"x":48,"y":-3},{"w":15,"x":50,"y":-1.2},{"w":15,"x":52,"y":-2.2},{"w":15,"x":54,"y":-4.1},{"w":15,"x":56,"y":-3.5},{"w":15,"x":58,"y":-1.6},{"w":15,"x":60,"y":-2.3},{"w":15,"x":62,"y":-4.3},{"w":15,"x":64,"y":-3.4},{"w":15,"x":66,"y":-3.6},{"w":15,"x":68,"y":-5.2},{"w":15,"x":70,"y":-6.5},{"w":15,"x":72,"y":-8.4},{"w":15,"x":74,"y":-9.3},{"w":15,"x":76,"y":-11.5},{"w":15,"x":78,"y":-14.4},{"w":15,"x":80,"y":-14},{"w":15,"x":82,"y":-16.2},{"w":15,"x":84,"y":-15.4},{"w":15,"x":86,"y":-16},{"w":15,"x":88,"y":-17.9},{"w":15,"x":90,"y":-18.8},{"w":15,"x":92,"y":-20.9},{"w":15,"x":94,"y":-21.6},{"w":15,"x":96,"y":-23.5},
{"w":16,"x":0,"y":0},{"w":16,"x":2,"y":1.3},{"w":16,"x":4,"y":0.6},{"w":16,"x":6,"y":-1.3},{"w":16,"x":8,"y":-0.1},{"w":16,"x":10,"y":-0.4},{"w":16,"x":12,"y":-2.4},{"w":16,"x":14,"y":-1.5},{"w":16,"x":16,"y":-1.6},{"w":16,"x":18,"y":-3.6},{"w":16,"x":20,"y":-2.7},{"w":16,"x":22,"y":-0.8},{"w":16,"x":24,"y":-1.9},{"w":16,"x":26,"y":-1.7},{"w":16,"x":28,"y":-2},{"w":16,"x":30,"y":-4},{"w":16,"x":32,"y":-3.1},{"w":16,"x":34,"y":-3.3},{"w":16,"x":36,"y":-5.1},{"w":16,"x":38,"y":-4},{"w":16,"x":40,"y":-4.4},{"w":16,"x":42,"y":-6.3},{"w":16,"x":44,"y":-5.4},{"w":16,"x":46,"y":-5.2},{"w":16,"x":48,"y":-7.6},{"w":16,"x":50,"y":-6.6},{"w":16,"x":52,"y":-4.7},{"w":16,"x":54,"y":-5.8},{"w":16,"x":56,"y":-7.8},{"w":16,"x":58,"y":-6.6},{"w":16,"x":60,"y":-7.1},{"w":16,"x":62,"y":-9},{"w":16,"x":64,"y":-7.9},{"w":16,"x":66,"y":-8.2},{"w":16,"x":68,"y":-10.1},{"w":16,"x":70,"y":-11.3},{"w":16,"x":72,"y":-10.2},{"w":16,"x":74,"y":-10.8},{"w":16,"x":76,"y":-12.9},{"w":16,"x":78,"y":-11.9},{"w":16,"x":80,"y":-12.2},{"w":16,"x":82,"y":-14.1},{"w":16,"x":84,"y":-14.3},{"w":16,"x":86,"y":-13},{"w":16,"x":88,"y":-15.2},{"w":16,"x":90,"y":-16.5},{"w":16,"x":92,"y":-18.9},{"w":16,"x":94,"y":-20.7},{"w":16,"x":96,"y":-22.3},
{"w":17,"x":0,"y":0},{"w":17,"x":2,"y":1.7},{"w":17,"x":4,"y":2.2},{"w":17,"x":6,"y":1},{"w":17,"x":8,"y":2.9},{"w":17,"x":10,"y":1.8},{"w":17,"x":12,"y":0.1},{"w":17,"x":14,"y":1.2},{"w":17,"x":16,"y":0.9},{"w":17,"x":18,"y":-0.9},{"w":17,"x":20,"y":0.3},{"w":17,"x":22,"y":2},{"w":17,"x":24,"y":1.1},{"w":17,"x":26,"y":-0.9},{"w":17,"x":28,"y":-0.2},{"w":17,"x":30,"y":0.1},{"w":17,"x":32,"y":-2},{"w":17,"x":34,"y":-1.2},{"w":17,"x":36,"y":0.8},{"w":17,"x":38,"y":0.2},{"w":17,"x":40,"y":-2.1},{"w":17,"x":42,"y":-3.3},{"w":17,"x":44,"y":-1.5},{"w":17,"x":46,"y":-2.2},{"w":17,"x":48,"y":-4.5},{"w":17,"x":50,"y":-3.6},{"w":17,"x":52,"y":-3.4},{"w":17,"x":54,"y":-5.6},{"w":17,"x":56,"y":-4.6},{"w":17,"x":58,"y":-5},{"w":17,"x":60,"y":-4.8},{"w":17,"x":62,"y":-2.8},{"w":17,"x":64,"y":-3.6},{"w":17,"x":66,"y":-3.9},{"w":17,"x":68,"y":-1.7},{"w":17,"x":70,"y":-2.6},{"w":17,"x":72,"y":-4.7},{"w":17,"x":74,"y":-3.6},{"w":17,"x":76,"y":-1.6},{"w":17,"x":78,"y":-2.5},{"w":17,"x":80,"y":-4.8},{"w":17,"x":82,"y":-4.1},{"w":17,"x":84,"y":-1.8},{"w":17,"x":86,"y":-2.6},{"w":17,"x":88,"y":-4.9},{"w":17,"x":90,"y":-3.8},{"w":17,"x":92,"y":-1.9},{"w":17,"x":94,"y":-2.8},{"w":17,"x":96,"y":-3.5},
{"w":18,"x":0,"y":0},{"w":18,"x":2,"y":-0.6},{"w":18,"x":4,"y":1.3},{"w":18,"x":6,"y":1.9},{"w":18,"x":8,"y":0.8},{"w":18,"x":10,"y":2.9},{"w":18,"x":12,"y":3.2},{"w":18,"x":14,"y":2},{"w":18,"x":16,"y":3.8},{"w":18,"x":18,"y":4.9},{"w":18,"x":20,"y":3},{"w":18,"x":22,"y":2.6},{"w":18,"x":24,"y":3.9},{"w":18,"x":26,"y":2.1},{"w":18,"x":28,"y":3.3},{"w":18,"x":30,"y":3},{"w":18,"x":32,"y":0.9},{"w":18,"x":34,"y":2.7},{"w":18,"x":36,"y":3.9},{"w":18,"x":38,"y":2},{"w":18,"x":40,"y":1},{"w":18,"x":42,"y":2.9},{"w":18,"x":44,"y":1.8},{"w":18,"x":46,"y":-0.1},{"w":18,"x":48,"y":1},{"w":18,"x":50,"y":0.6},{"w":18,"x":52,"y":1.9},{"w":18,"x":54,"y":0.1},{"w":18,"x":56,"y":-1.2},{"w":18,"x":58,"y":0.7},{"w":18,"x":60,"y":1.8},{"w":18,"x":62,"y":-0.1},{"w":18,"x":64,"y":-0.6},{"w":18,"x":66,"y":0.9},{"w":18,"x":68,"y":-0.9},{"w":18,"x":70,"y":0.2},{"w":18,"x":72,"y":2},{"w":18,"x":74,"y":0.8},{"w":18,"x":76,"y":-0.9},{"w":18,"x":78,"y":0.3},{"w":18,"x":80,"y":2.1},{"w":18,"x":82,"y":1.2},{"w":18,"x":84,"y":-0.8},{"w":18,"x":86,"y":0.1},{"w":18,"x":88,"y":2.2},{"w":18,"x":90,"y":1.3},{"w":18,"x":92,"y":-0.7},{"w":18,"x":94,"y":0.5},{"w":18,"x":96,"y":0.3},
{"w":19,"x":0,"y":0},{"w":19,"x":2,"y":-0.7},{"w":19,"x":4,"y":0.5},{"w":19,"x":6,"y":-0.8},{"w":19,"x":8,"y":-2},{"w":19,"x":10,"y":-1},{"w":19,"x":12,"y":-2.3},{"w":19,"x":14,"y":-3.4},{"w":19,"x":16,"y":-2.2},{"w":19,"x":18,"y":-3.5},{"w":19,"x":20,"y":-4.6},{"w":19,"x":22,"y":-3.5},{"w":19,"x":24,"y":-4.8},{"w":19,"x":26,"y":-6},{"w":19,"x":28,"y":-5},{"w":19,"x":30,"y":-6.2},{"w":19,"x":32,"y":-7.3},{"w":19,"x":34,"y":-6.2},{"w":19,"x":36,"y":-7.5},{"w":19,"x":38,"y":-8.6},{"w":19,"x":40,"y":-7.5},{"w":19,"x":42,"y":-8.7},{"w":19,"x":44,"y":-9.3},{"w":19,"x":46,"y":-8.2},{"w":19,"x":48,"y":-9.4},{"w":19,"x":50,"y":-9.3},{"w":19,"x":52,"y":-11.8},{"w":19,"x":54,"y":-14.8},{"w":19,"x":56,"y":-15.6},{"w":19,"x":58,"y":-16.9},{"w":19,"x":60,"y":-16.2},{"w":19,"x":62,"y":-18.7},{"w":19,"x":64,"y":-18.1},{"w":19,"x":66,"y":-20.2},{"w":19,"x":68,"y":-18.5},{"w":19,"x":70,"y":-17.4},{"w":19,"x":72,"y":-16.4},{"w":19,"x":74,"y":-17},{"w":19,"x":76,"y":-15.2},{"w":19,"x":78,"y":-15.8},{"w":19,"x":80,"y":-12.9},{"w":19,"x":82,"y":-10.6},{"w":19,"x":84,"y":-9.2},{"w":19,"x":86,"y":-7.8},{"w":19,"x":88,"y":-9},{"w":19,"x":90,"y":-7.4},{"w":19,"x":92,"y":-6.1},{"w":19,"x":94,"y":-7.1},{"w":19,"x":96,"y":-5.8},
{"w":20,"x":0,"y":0},{"w":20,"x":2,"y":0.6},{"w":20,"x":4,"y":1.2},{"w":20,"x":6,"y":3.1},{"w":20,"x":8,"y":3.5},{"w":20,"x":10,"y":2.3},{"w":20,"x":12,"y":1.9},{"w":20,"x":14,"y":3.3},{"w":20,"x":16,"y":3.6},{"w":20,"x":18,"y":5.4},{"w":20,"x":20,"y":4.4},{"w":20,"x":22,"y":2.4},{"w":20,"x":24,"y":3.6},{"w":20,"x":26,"y":5.4},{"w":20,"x":28,"y":5.8},{"w":20,"x":30,"y":5.3},{"w":20,"x":32,"y":3.3},{"w":20,"x":34,"y":4.6},{"w":20,"x":36,"y":6.5},{"w":20,"x":38,"y":5.2},{"w":20,"x":40,"y":3.4},{"w":20,"x":42,"y":5},{"w":20,"x":44,"y":3.9},{"w":20,"x":46,"y":2.1},{"w":20,"x":48,"y":3.2},{"w":20,"x":50,"y":5.1},{"w":20,"x":52,"y":5.6},{"w":20,"x":54,"y":5.1},{"w":20,"x":56,"y":3.1},{"w":20,"x":58,"y":2.8},{"w":20,"x":60,"y":3.3},{"w":20,"x":62,"y":5},{"w":20,"x":64,"y":6},{"w":20,"x":66,"y":4.1},{"w":20,"x":68,"y":3.8},{"w":20,"x":70,"y":2},{"w":20,"x":72,"y":3.1},{"w":20,"x":74,"y":5},{"w":20,"x":76,"y":3},{"w":20,"x":78,"y":2.6},{"w":20,"x":80,"y":0.9},{"w":20,"x":82,"y":2.6},{"w":20,"x":84,"y":3.9},{"w":20,"x":86,"y":2},{"w":20,"x":88,"y":3.3},{"w":20,"x":90,"y":5.1},{"w":20,"x":92,"y":3.4},{"w":20,"x":94,"y":4.7},{"w":20,"x":96,"y":4.2}
],
"bounds":[
{"s":"u","x":1,"y":2},{"s":"u","x":2,"y":2.83},{"s":"u","x":3,"y":3.46},{"s":"u","x":4,"y":4},{"s":"u","x":6,"y":4.9},{"s":"u","x":8,"y":5.66},{"s":"u","x":10,"y":6.32},{"s":"u","x":13,"y":7.21},{"s":"u","x":16,"y":8},{"s":"u","x":20,"y":8.94},{"s":"u","x":25,"y":10},{"s":"u","x":30,"y":10.95},{"s":"u","x":36,"y":12},{"s":"u","x":42,"y":12.96},{"s":"u","x":49,"y":14},{"s":"u","x":56,"y":14.97},{"s":"u","x":64,"y":16},{"s":"u","x":72,"y":16.97},{"s":"u","x":81,"y":18},{"s":"u","x":90,"y":18.97},{"s":"u","x":95,"y":19.49},
{"s":"l","x":1,"y":-2},{"s":"l","x":2,"y":-2.83},{"s":"l","x":3,"y":-3.46},{"s":"l","x":4,"y":-4},{"s":"l","x":6,"y":-4.9},{"s":"l","x":8,"y":-5.66},{"s":"l","x":10,"y":-6.32},{"s":"l","x":13,"y":-7.21},{"s":"l","x":16,"y":-8},{"s":"l","x":20,"y":-8.94},{"s":"l","x":25,"y":-10},{"s":"l","x":30,"y":-10.95},{"s":"l","x":36,"y":-12},{"s":"l","x":42,"y":-12.96},{"s":"l","x":49,"y":-14},{"s":"l","x":56,"y":-14.97},{"s":"l","x":64,"y":-16},{"s":"l","x":72,"y":-16.97},{"s":"l","x":81,"y":-18},{"s":"l","x":90,"y":-18.97},{"s":"l","x":95,"y":-19.49}
],
"rightText":[
{"k":"l","x":0.9,"y":18.7,"t":"σΔ"},
{"k":"l","x":85.7,"y":20.95,"t":"+(2n)"},
{"k":"l","x":87.3,"y":-18.28,"t":"-(2n)"},
{"k":"l","x":87.7,"y":-23.64,"t":"n"},
{"k":"sup","x":98.2,"y":21.8,"t":"1/2"},
{"k":"sup","x":98.6,"y":-17.04,"t":"1/2"},
{"k":"cap","x":-13.2,"y":-35.84,"t":"8b) 20 random walks used for 4a, 4b, & 5a"}
]
},
"hconcat":[
{
"width":428,"height":380,
"encoding":{
"x":{"field":"x","type":"quantitative","scale":{"type":"log","base":2,"domain":[1,16],"nice":false},"axis":{"values":[1,2,4,8,16],"tickSize":9,"labelPadding":9,"labelExpr":"'' + datum.value","title":null}},
"y":{"field":"y","type":"quantitative","scale":{"domain":[-0.5,2.478],"nice":false,"zero":false},"axis":{"values":[-0.5,-0.25,0,0.25,0.5,0.75,1,1.25,1.5,2],"tickSize":{"condition":{"test":"indexof([-0.5,0,0.5,1,1.5,2], datum.value) >= 0","value":10},"value":6},"labelPadding":5,"labelOffset":11,"labelBaseline":"middle","labelExpr":"datum.value == -0.5 ? '-0.5' : datum.value == 0 ? '0.0' : datum.value == 0.5 ? '0.5' : datum.value == 1 ? '1.0' : datum.value == 1.5 ? '1.5' : datum.value == 2 ? '2.0' : ''","title":null}}
},
"layer":[
{"data":{"name":"leftLines"},"mark":{"type":"line","color":"black","strokeWidth":1},"encoding":{"detail":{"field":"g"}}},
{"data":{"name":"leftFit"},"mark":{"type":"line","color":"#b4450f","strokeWidth":4,"strokeDash":[4,4],"strokeCap":"butt"},"encoding":{"detail":{"field":"g"}}},
{"data":{"name":"leftFit"},"mark":{"type":"square","color":"#b4450f","size":30,"opacity":1}},
{"data":{"name":"leftLeaders"},"mark":{"type":"line","color":"black","strokeWidth":1.2},"encoding":{"detail":{"field":"g"}}},
{"data":{"name":"leftText"},"transform":[{"filter":"datum.k == 'c'"}],"mark":{"type":"text","font":"Liberation Sans","fontSize":22,"align":"center","baseline":"middle","color":"black"},"encoding":{"text":{"field":"t"}}},
{"data":{"name":"leftText"},"transform":[{"filter":"datum.k == 'l'"}],"mark":{"type":"text","font":"Liberation Sans","fontSize":22,"align":"left","baseline":"middle","color":"black"},"encoding":{"text":{"field":"t"}}},
{"data":{"name":"leftText"},"transform":[{"filter":"datum.k == 'sm'"}],"mark":{"type":"text","font":"Liberation Serif","fontSize":24,"align":"left","baseline":"middle","color":"black"},"encoding":{"text":{"field":"t"}}},
{"data":{"name":"leftText"},"transform":[{"filter":"datum.k == 'ss' || datum.k == 'sp'"}],"mark":{"type":"text","font":"Liberation Serif","fontSize":16,"align":"left","baseline":"middle","color":"black"},"encoding":{"text":{"field":"t"}}},
{"data":{"name":"leftText"},"transform":[{"filter":"datum.k == 'cap'"}],"mark":{"type":"text","font":"Liberation Serif","fontStyle":"italic","fontSize":28,"align":"left","baseline":"middle","color":"black"},"encoding":{"text":{"field":"t"}}},
{"data":{"name":"leftText"},"transform":[{"filter":"datum.k == 'csp'"}],"mark":{"type":"text","font":"Liberation Serif","fontStyle":"italic","fontSize":17,"align":"left","baseline":"middle","color":"black"},"encoding":{"text":{"field":"t"}}}
]
},
{
"width":440,"height":380,
"encoding":{
"x":{"field":"x","type":"quantitative","scale":{"domain":[0,100],"nice":false,"zero":false},"axis":{"values":[0,10,20,30,40,50,60,70,80,90,100],"offset":-4,"tickSize":9,"labelPadding":13,"labelOffset":-7,"labelExpr":"datum.value % 20 == 0 ? '' + datum.value : ''","title":null}},
"y":{"field":"y","type":"quantitative","scale":{"domain":[-25.5,21.82],"nice":false,"zero":false},"axis":{"values":[-25,-20,-15,-10,-5,0,5,10,15,20],"tickSize":{"condition":{"test":"datum.value % 10 == 0","value":11},"value":6},"labelPadding":12,"labelOffset":10.5,"labelBaseline":"middle","labelExpr":"datum.value % 10 == 0 ? (datum.value < 0 ? '-' + (-datum.value) : '' + datum.value) : ''","title":null}}
},
"layer":[
{"data":{"name":"walks"},"mark":{"type":"line","color":"black","strokeWidth":1},"encoding":{"detail":{"field":"w"}}},
{"data":{"name":"bounds"},"mark":{"type":"line","color":"#b4450f","strokeWidth":3.5,"strokeDash":[0.1,7.4],"strokeCap":"round","interpolate":"monotone"},"encoding":{"detail":{"field":"s"}}},
{"data":{"name":"rightText"},"transform":[{"filter":"datum.k == 'l'"}],"mark":{"type":"text","font":"Liberation Sans","fontSize":23,"align":"left","baseline":"middle","color":"black"},"encoding":{"text":{"field":"t"}}},
{"data":{"name":"rightText"},"transform":[{"filter":"datum.k == 'sup'"}],"mark":{"type":"text","font":"Liberation Sans","fontSize":14,"align":"left","baseline":"middle","color":"black"},"encoding":{"text":{"field":"t"}}},
{"data":{"name":"rightText"},"transform":[{"filter":"datum.k == 'cap'"}],"mark":{"type":"text","font":"Liberation Serif","fontStyle":"italic","fontSize":29,"align":"left","baseline":"middle","color":"black"},"encoding":{"text":{"field":"t"}}}
]
}
]
}
